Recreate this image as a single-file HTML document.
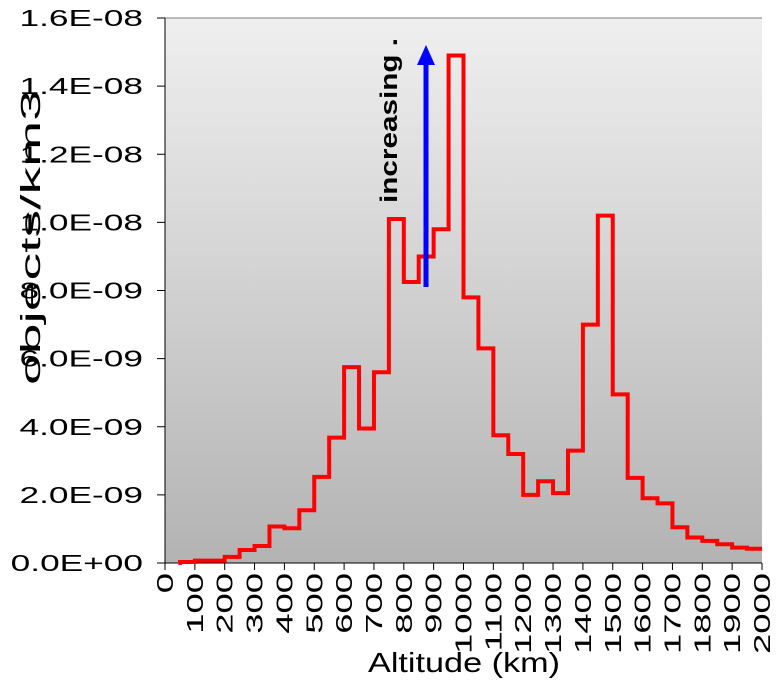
<!DOCTYPE html>
<html><head><meta charset="utf-8"><style>
body{margin:0;background:#fff;}
svg{display:block;font-family:"Liberation Sans",Arial,sans-serif;}
</style></head><body>
<svg id="chart" width="781" height="694">
<defs><linearGradient id="bg" x1="0" y1="0" x2="0" y2="1"><stop offset="0" stop-color="#efefef"/><stop offset="1" stop-color="#b3b3b3"/></linearGradient></defs>
<rect x="165" y="18" width="597" height="545" fill="url(#bg)"/>
<line x1="165" y1="18" x2="762" y2="18" stroke="#808080" stroke-width="1"/>
<g id="axes"></g>
<g id="series"></g>
<line x1="426" y1="287" x2="426" y2="62" stroke="#0000ff" stroke-width="5"/>
<polygon points="426,45 417,65 435,65" fill="#0000ff"/>
<text transform="translate(397,203) rotate(-90)" font-size="24" font-weight="bold" textLength="165" lengthAdjust="spacingAndGlyphs">increasing .</text>
<text transform="translate(40,385) rotate(-90)" font-size="28" textLength="295" lengthAdjust="spacingAndGlyphs">objects/km3</text>
<text x="368" y="672" font-size="28" textLength="192" lengthAdjust="spacingAndGlyphs">Altitude (km)</text>
</svg>
<script>
const binStarts=[0,50,100,150,200,250,300,350,400,450,500,550,600,650,700,750,800,850,900,950,1000,1050,1100,1150,1200,1250,1300,1350,1400,1450,1500,1550,1600,1650,1700,1750,1800,1850,1900,1950];
const densityE9=[0,0.03,0.07,0.07,0.18,0.38,0.5,1.07,1.02,1.55,2.53,3.68,5.75,3.95,5.6,10.1,8.25,9.0,9.8,14.9,7.8,6.3,3.75,3.2,2.0,2.4,2.05,3.3,7.0,10.2,4.95,2.5,1.9,1.75,1.05,0.75,0.65,0.55,0.45,0.42];
const yTicks=[0,2,4,6,8,10,12,14,16];
const yTickLabels=["0.0E+00","2.0E-09","4.0E-09","6.0E-09","8.0E-09","1.0E-08","1.2E-08","1.4E-08","1.6E-08"];
const xTicks=[0,100,200,300,400,500,600,700,800,900,1000,1100,1200,1300,1400,1500,1600,1700,1800,1900,2000];
const binWidth=50;
const NS="http://www.w3.org/2000/svg";
function xs(v){return 165+v*(597/2000);}
function ys(v){return 563-v*(545/16);}
const axes=document.getElementById('axes');
function mk(tag,attrs,parent){const e=document.createElementNS(NS,tag);for(const k in attrs)e.setAttribute(k,attrs[k]);parent.appendChild(e);return e;}
function stretch(t,f){const n=t.getComputedTextLength();t.setAttribute('textLength',n*f);t.setAttribute('lengthAdjust','spacingAndGlyphs');}
let l=mk('line',{x1:165,y1:18,x2:165,y2:563,stroke:'#000','stroke-width':1},axes);


l=mk('line',{x1:165,y1:563,x2:762,y2:563,stroke:'#000','stroke-width':1},axes);


yTicks.forEach((t,i)=>{
  const y=ys(t);
  const tk=mk('line',{x1:157,y1:y,x2:165,y2:y,stroke:'#000'},axes);
  
  
  const tx=mk('text',{x:143,y:y+8,'text-anchor':'end','font-size':23.5},axes);
  tx.textContent=yTickLabels[i];
  
  
  stretch(tx,1.5);
});
xTicks.forEach(t=>{
  const x=xs(t);
  const tk=mk('line',{x1:x,y1:563,x2:x,y2:570,stroke:'#000'},axes);
  
  
  const tx=mk('text',{transform:`translate(${x+8},573) rotate(-90)`,'text-anchor':'end','font-size':23.5},axes);
  tx.textContent=String(t);
  
  
  stretch(tx,1.55);
});
let d='';
binStarts.forEach((s,i)=>{
  const x0=xs(s+(i===0?45:0)),x1=xs(s+binWidth),y=ys(densityE9[i]);
  d+=(i===0?'M':'L')+x0+','+y+' L'+x1+','+y+' ';
});
const p=mk('path',{d:d,fill:'none',stroke:'#ff0000','stroke-width':4,'stroke-linejoin':'miter'},document.getElementById('series'));


</script>
</body></html>
